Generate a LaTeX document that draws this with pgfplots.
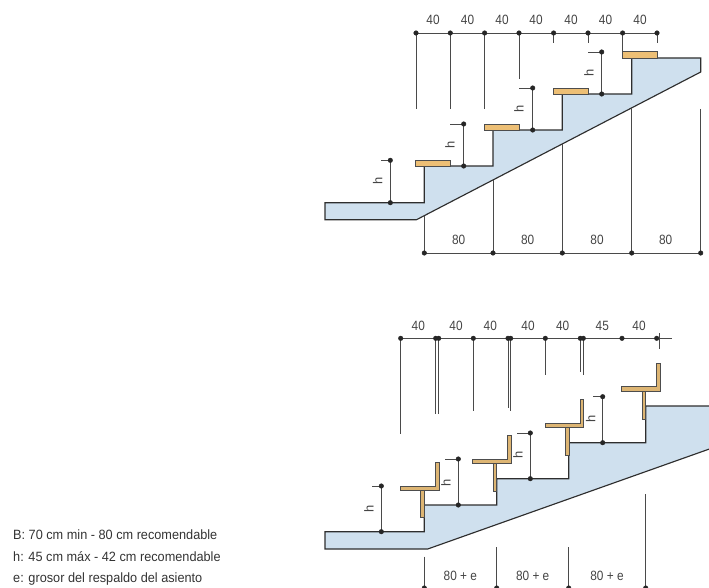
\documentclass[border=0pt]{standalone}
\usepackage{fontspec}
\setmainfont{Liberation Sans}
\usepackage{pgfplots}
\pgfplotsset{compat=1.18}
\definecolor{stairblue}{HTML}{CFE0EE}
\definecolor{tread}{HTML}{EDBF75}
\definecolor{chair}{HTML}{DDB573}
\definecolor{ink}{HTML}{2E2E2E}
\definecolor{dimline}{HTML}{4A4A4A}
\definecolor{txt}{HTML}{444444}
\pgfplotsset{
  dim/.style={draw=dimline, line width=0.95pt},
  dot/.style={only marks, mark=*, mark size=2.3bp, mark options={fill=black!85, draw=black!85}},
  stair/.style={fill=stairblue, draw=ink, line width=1.15pt, line join=miter},
  board/.style={fill=#1, draw=ink!85, line width=1pt},
}
\tikzset{
  lab/.style={font=\fontsize{13.5}{15}\selectfont, text=txt, xscale=0.88, inner sep=0pt},
  hlab/.style={font=\fontsize{13}{15}\selectfont, text=txt, rotate=90, inner sep=0pt},
  leg/.style={font=\fontsize{13.5}{16}\selectfont, text=black!80, anchor=west, xscale=0.945, inner sep=0pt},
}
\begin{document}
\begin{tikzpicture}
\useasboundingbox (0,0) rectangle (709bp,588bp);
\begin{axis}[
  at={(0,0)}, anchor=south west,
  scale only axis, width=709bp, height=588bp,
  xmin=0, xmax=709, ymin=0, ymax=588, y dir=reverse,
  axis lines=none, clip=true,
]
% upper stair
\addplot[stair] coordinates {(325,202.7) (325,219.7) (416.5,219.7) (700.7,72) (700.7,58) (631.7,58) (631.7,94) (562.3,94) (562.3,130) (493,130) (493,166) (424.3,166) (424.3,202.7)} -- cycle;
\addplot[board=tread] coordinates {(622.7,51.7) (657.3,51.7) (657.3,58) (622.7,58)} -- cycle;
\addplot[board=tread] coordinates {(553.3,88) (588.3,88) (588.3,94.3) (553.3,94.3)} -- cycle;
\addplot[board=tread] coordinates {(484.3,124) (519.3,124) (519.3,130.3) (484.3,130.3)} -- cycle;
\addplot[board=tread] coordinates {(415.7,160.3) (450.3,160.3) (450.3,166.7) (415.7,166.7)} -- cycle;
% top dimension line
\addplot[dim] coordinates {(416,33) (657,33)};
\addplot[dim] coordinates {(416,33) (416,109)};
\addplot[dim] coordinates {(450.3,33) (450.3,109)};
\addplot[dim] coordinates {(484.6,33) (484.6,109)};
\addplot[dim] coordinates {(519,33) (519,79)};
\addplot[dim] coordinates {(553.6,33) (553.6,43)};
\addplot[dim] coordinates {(588,33) (588,43)};
\addplot[dim] coordinates {(622.6,33) (622.6,52)};
\addplot[dim] coordinates {(657,33) (657,43)};
\addplot[dot] coordinates {(416,33) (450.3,33) (484.6,33) (519,33) (553.6,33) (588,33) (622.6,33) (657,33)};
% h marks
\addplot[dim] coordinates {(588,52) (601.7,52) (601.7,94)};
\addplot[dim] coordinates {(519,88) (532.7,88) (532.7,130)};
\addplot[dim] coordinates {(450,124) (463.7,124) (463.7,166)};
\addplot[dim] coordinates {(381,160.3) (390.3,160.3) (390.3,202.7)};
\addplot[dot] coordinates {(601.7,52) (601.7,94) (532.7,88) (532.7,130) (463.7,124) (463.7,166) (390.3,160.3) (390.3,202.7)};
% bottom dimension line
\addplot[dim] coordinates {(424.3,253) (700.7,253)};
\addplot[dim] coordinates {(424.3,216) (424.3,253)};
\addplot[dim] coordinates {(493,180) (493,253)};
\addplot[dim] coordinates {(562.3,144) (562.3,253)};
\addplot[dim] coordinates {(631.7,108) (631.7,253)};
\addplot[dim] coordinates {(700.7,109) (700.7,253)};
\addplot[dot] coordinates {(424.3,253) (493,253) (562.3,253) (631.7,253) (700.7,253)};
% lower stair
\addplot[stair] coordinates {(325,531.7) (325,549) (427.7,549) (715,447) (715,406) (645.7,406) (645.7,442.7) (568.7,442.7) (568.7,478.7) (496.7,478.7) (496.7,505) (424.3,505) (424.3,531.7)} -- cycle;
% chairs
\addplot[board=chair] coordinates {(656.3,363) (660,363) (660,391) (621.7,391) (621.7,386.7) (656.3,386.7)} -- cycle;
\addplot[board=chair] coordinates {(642,391) (645.7,391) (645.7,419) (642,419)} -- cycle;
\addplot[board=chair] coordinates {(580,399.3) (583.7,399.3) (583.7,427.3) (545,427.3) (545,423) (580,423)} -- cycle;
\addplot[board=chair] coordinates {(565.7,427.3) (569.3,427.3) (569.3,455) (565.7,455)} -- cycle;
\addplot[board=chair] coordinates {(507.7,435.5) (511.3,435.5) (511.3,463.3) (472.7,463.3) (472.7,459) (507.7,459)} -- cycle;
\addplot[board=chair] coordinates {(493,463.3) (496.7,463.3) (496.7,491.7) (493,491.7)} -- cycle;
\addplot[board=chair] coordinates {(435.3,462) (439,462) (439,490) (400.3,490) (400.3,486) (435.3,486)} -- cycle;
\addplot[board=chair] coordinates {(420.7,490) (424.5,490) (424.5,517.7) (420.7,517.7)} -- cycle;
% top dimension line, lower stair
\addplot[dim] coordinates {(400.7,338.3) (671.7,338.3)};
\addplot[dim] coordinates {(400.7,338.3) (400.7,434)};
\addplot[dim] coordinates {(435.7,338.3) (435.7,414)};
\addplot[dim] coordinates {(438.7,338.3) (438.7,414)};
\addplot[dim] coordinates {(473.3,338.3) (473.3,411.3)};
\addplot[dim] coordinates {(508,338.3) (508,407.7)};
\addplot[dim] coordinates {(510.7,338.3) (510.7,411.3)};
\addplot[dim] coordinates {(545.3,338.3) (545.3,375)};
\addplot[dim] coordinates {(580.3,338.3) (580.3,372)};
\addplot[dim] coordinates {(583.3,338.3) (583.3,375)};
\addplot[dim] coordinates {(659.7,333) (659.7,349)};
\addplot[dot] coordinates {(400.7,338.3) (435.7,338.3) (438.7,338.3) (473.3,338.3) (508,338.3) (510.7,338.3) (545.3,338.3) (580.3,338.3) (583.3,338.3) (622,338.3) (656.7,338.3)};
% h marks, lower stair
\addplot[dim] coordinates {(593,396.7) (602.7,396.7) (602.7,442.7)};
\addplot[dim] coordinates {(517,433) (530.3,433) (530.3,478.7)};
\addplot[dim] coordinates {(445,459) (458.3,459) (458.3,505)};
\addplot[dim] coordinates {(372,486) (381.3,486) (381.3,531.7)};
\addplot[dot] coordinates {(602.7,396.7) (602.7,442.7) (530.3,433) (530.3,478.7) (458.3,459) (458.3,505) (381.3,486) (381.3,531.7)};
% bottom dimension line, lower stair
\addplot[dim] coordinates {(424.3,588) (645.7,588)};
\addplot[dim] coordinates {(424.3,556.7) (424.3,588)};
\addplot[dim] coordinates {(496.7,547) (496.7,588)};
\addplot[dim] coordinates {(568.7,547) (568.7,588)};
\addplot[dim] coordinates {(645.7,494.3) (645.7,588)};
\addplot[dot] coordinates {(424.3,588) (496.7,588) (568.7,588) (645.7,588)};
% labels
\node[lab] at (axis cs:433,20) {40};
\node[lab] at (axis cs:467.5,20) {40};
\node[lab] at (axis cs:502,20) {40};
\node[lab] at (axis cs:536,20) {40};
\node[lab] at (axis cs:571,20) {40};
\node[lab] at (axis cs:605.5,20) {40};
\node[lab] at (axis cs:640,20) {40};
\node[lab] at (axis cs:458.7,240) {80};
\node[lab] at (axis cs:527.7,240) {80};
\node[lab] at (axis cs:597,240) {80};
\node[lab] at (axis cs:665.7,240) {80};
\node[hlab] at (axis cs:589,73) {h};
\node[hlab] at (axis cs:519,109) {h};
\node[hlab] at (axis cs:450,145) {h};
\node[hlab] at (axis cs:377.7,181) {h};
\node[lab] at (axis cs:418.3,326) {40};
\node[lab] at (axis cs:456,326) {40};
\node[lab] at (axis cs:490.3,326) {40};
\node[lab] at (axis cs:528,326) {40};
\node[lab] at (axis cs:562.7,326) {40};
\node[lab] at (axis cs:602.3,326) {45};
\node[lab] at (axis cs:639,326) {40};
\node[hlab] at (axis cs:590.7,419.3) {h};
\node[hlab] at (axis cs:518,455) {h};
\node[hlab] at (axis cs:446,482.7) {h};
\node[hlab] at (axis cs:369,509) {h};
\node[lab] at (axis cs:460.3,575.7) {80 + e};
\node[lab] at (axis cs:532.7,575.7) {80 + e};
\node[lab] at (axis cs:607,575.7) {80 + e};
\node[leg] at (axis cs:13,534.5) {B: 70 cm min - 80 cm recomendable};
\node[leg] at (axis cs:13,557) {h: 45 cm máx - 42 cm recomendable};
\node[leg] at (axis cs:13,579.5) {e: grosor del respaldo del asiento};
\end{axis}
\end{tikzpicture}
\end{document}
